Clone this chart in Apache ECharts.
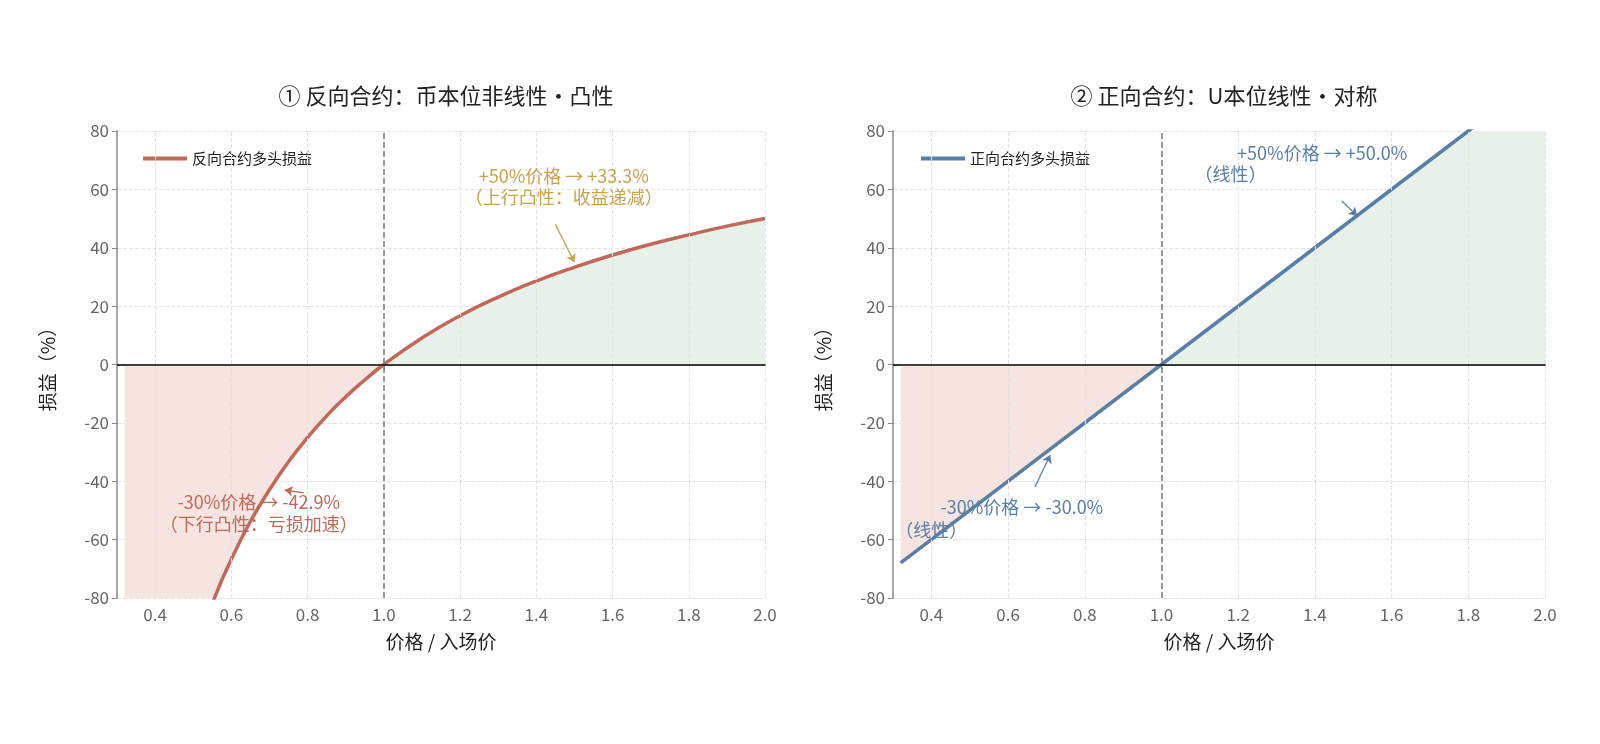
<!DOCTYPE html><html><head><meta charset="utf-8">
<script src="https://cdn.jsdelivr.net/npm/echarts@6/dist/echarts.min.js"></script>
<style>html,body{margin:0;background:#fff}#c{width:1600px;height:744px}</style></head><body><div id="c"></div><script>
const invX=[0.32,0.36,0.40,0.45,0.50,0.556,0.60,0.65,0.70,0.75,0.80,0.85,0.90,0.95,1.00,1.10,1.20,1.30,1.40,1.50,1.60,1.70,1.80,1.90,2.00];
const invY=[-212.5,-177.8,-150,-122.2,-100,-79.9,-66.7,-53.8,-42.9,-33.3,-25,-17.6,-11.1,-5.3,0,9.1,16.7,23.1,28.6,33.3,37.5,41.2,44.4,47.4,50];
const linX=[0.32,1.00,1.80,2.00];
const linY=[-68,0,80,100];
const xTicks=[0.4,0.6,0.8,1.0,1.2,1.4,1.6,1.8,2.0];
const titles=['① 反向合约：币本位非线性・凸性','② 正向合约：U本位线性・对称'];
const legendNames=['反向合约多头损益','正向合约多头损益'];
const FONT='"Noto Sans CJK SC","Noto Sans",sans-serif';
const RED='#c0685a',GOLD='#c9a24c',BLUE='#5b7ea5',REDF='#f5e4df',GRNF='#e7f1ea';
const zip=(xs,ys)=>xs.map((x,i)=>[x,ys[i]]);
const inv=zip(invX,invY), lin=zip(linX,linY);
const grids=[{left:117,top:131,width:648,height:467,outerBoundsMode:'none',containLabel:false},{left:893,top:131,width:652,height:467,outerBoundsMode:'none',containLabel:false}];
function xa(i){return{gridIndex:i,type:'value',min:0.3,max:2.0,
 axisLabel:{color:'#666',fontSize:17,fontFamily:FONT,customValues:xTicks,formatter:v=>v.toFixed(1)},
 axisLine:{lineStyle:{color:'#888',width:1.5}},axisTick:{show:true,customValues:xTicks,lineStyle:{color:'#888'}},
 splitLine:{show:false},
 name:'价格 / 入场价',nameLocation:'middle',nameGap:34,nameTextStyle:{fontSize:19,color:'#222',fontFamily:FONT}}}
function ya(i){return{gridIndex:i,type:'value',min:-80,max:80,interval:20,
 axisLabel:{color:'#666',fontSize:17,fontFamily:FONT},
 axisLine:{show:true,lineStyle:{color:'#888',width:1.5}},axisTick:{show:true,lineStyle:{color:'#888'}},
 splitLine:{show:true,lineStyle:{type:'dashed',color:'#e2e2e2'}},
 name:'损益（%）',nameLocation:'middle',nameGap:60,nameTextStyle:{fontSize:19,color:'#222',fontFamily:FONT}}}
function fills(i,data){
 const neg=data.filter(p=>p[0]<=1), pos=data.filter(p=>p[0]>=1);
 return [
 {type:'line',xAxisIndex:i,yAxisIndex:i,data:neg,smooth:i==0,symbol:'none',lineStyle:{width:0},areaStyle:{color:REDF,opacity:1,origin:0},silent:true,clip:true},
 {type:'line',xAxisIndex:i,yAxisIndex:i,data:pos,smooth:i==0,symbol:'none',lineStyle:{width:0},areaStyle:{color:GRNF,opacity:1,origin:0},silent:true,clip:true}];
}
function refs(i,arrows){return{type:'line',xAxisIndex:i,yAxisIndex:i,data:[],markLine:{silent:true,symbol:'none',label:{show:false},animation:false,
 data:[...xTicks.filter(t=>t!==1).map(t=>[{coord:[t,-80],lineStyle:{color:'#e2e2e2',type:'dashed',width:1}},{coord:[t,80]}]),
       [{coord:[1,-80],lineStyle:{color:'#777',type:'dashed',width:1.5}},{coord:[1,80]}],
       [{coord:[0.3,0],lineStyle:{color:'#111',type:'solid',width:1.5}},{coord:[2,0]}],
       ...arrows.map(a=>[{coord:a[0],symbol:'none',lineStyle:{color:a[2],type:'solid',width:1.3}},{coord:a[1],symbol:'arrow',symbolSize:8}])]}}}
const chart=echarts.init(document.getElementById('c'));
chart.setOption({animation:false,
 title:[{text:titles[0],left:441,top:80,textAlign:'center',textStyle:{fontSize:22,fontWeight:'normal',color:'#222',fontFamily:FONT}},
        {text:titles[1],left:1219,top:80,textAlign:'center',textStyle:{fontSize:22,fontWeight:'normal',color:'#222',fontFamily:FONT}}],
 legend:[{data:[legendNames[0]],left:138,top:146,itemWidth:44,itemHeight:4,textStyle:{fontSize:15,color:'#222',fontFamily:FONT},icon:'rect'},
         {data:[legendNames[1]],left:916,top:146,itemWidth:44,itemHeight:4,textStyle:{fontSize:15,color:'#222',fontFamily:FONT},icon:'rect'}],
 grid:grids,xAxis:[xa(0),xa(1)],yAxis:[ya(0),ya(1)],
 series:[...fills(0,inv),...fills(1,lin),
  refs(0,[[[1.45,48],[1.5,35],GOLD],[[0.79,-44],[0.74,-43],RED]]),
  refs(1,[[[1.47,56],[1.51,51],BLUE],[[0.67,-42],[0.71,-31],BLUE]]),
  {name:legendNames[0],type:'line',xAxisIndex:0,yAxisIndex:0,data:inv,smooth:true,symbol:'none',lineStyle:{color:RED,width:3.5},itemStyle:{color:RED},clip:true},
  {name:legendNames[1],type:'line',xAxisIndex:1,yAxisIndex:1,data:lin,symbol:'none',lineStyle:{color:BLUE,width:3.5},itemStyle:{color:BLUE},clip:true}]
});
const notes=[
 [0,1.472,64.6,'+50%价格 → +33.3%',GOLD],[0,1.472,57.2,'（上行凸性：收益递减）',GOLD],
 [0,0.672,-47.1,'-30%价格 → -42.9%',RED],[0,0.672,-54.7,'（下行凸性：亏损加速）',RED],
 [1,1.419,72.5,'+50%价格 → +50.0%',BLUE],[1,1.18,65.2,'（线性）',BLUE],
 [1,0.636,-49,'-30%价格 → -30.0%',BLUE],[1,0.4,-56.7,'（线性）',BLUE]];
chart.setOption({graphic:notes.map(n=>{const p=chart.convertToPixel({gridIndex:n[0]},[n[1],n[2]]);
 return{type:'text',z:100,x:p[0],y:p[1],style:{text:n[3],fill:n[4],fontSize:18,fontFamily:FONT,align:'center',verticalAlign:'middle'}}})});
</script></body></html>
